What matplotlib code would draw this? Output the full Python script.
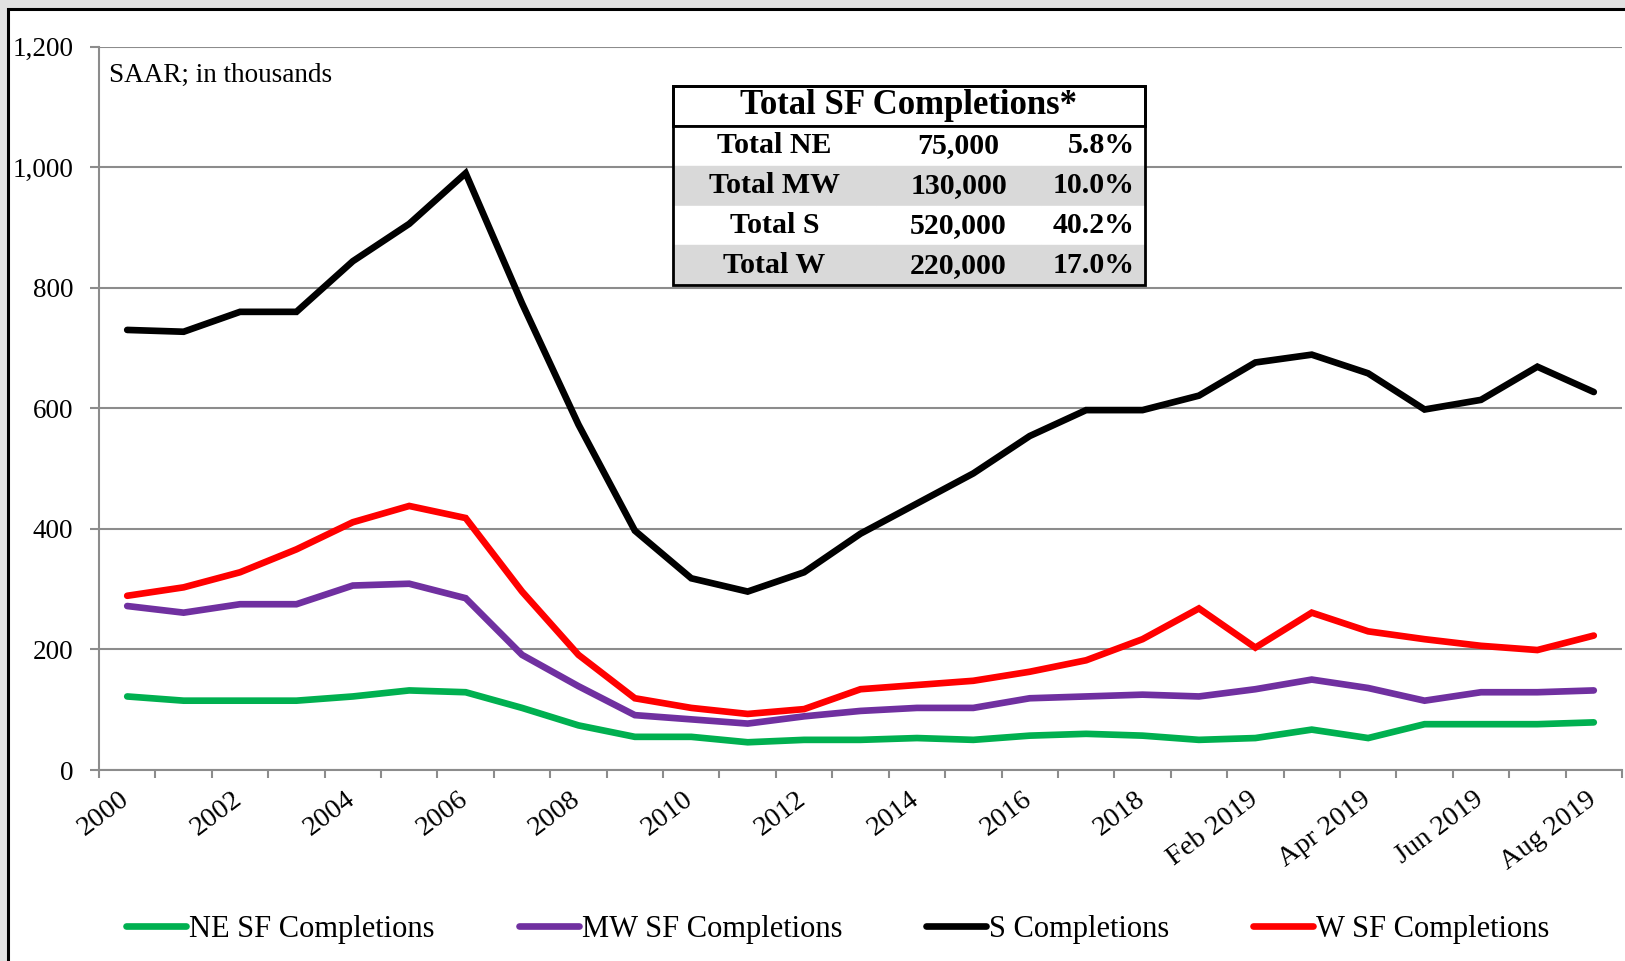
import matplotlib
matplotlib.use("Agg")
import matplotlib.pyplot as plt
import matplotlib.transforms as mtransforms
from matplotlib.patches import Rectangle
from matplotlib.ticker import FixedLocator, FuncFormatter

plt.rcParams["font.family"] = ["Liberation Serif", "DejaVu Serif"]

# monthly categories: annual 2000-2018, then Jan-Aug 2019
cats = [str(y) for y in range(2000, 2019)] + \
       ["Jan 2019", "Feb 2019", "Mar 2019", "Apr 2019", "May 2019", "Jun 2019", "Jul 2019", "Aug 2019"]
ne = [122, 115, 115, 115, 122, 132, 129, 103, 74, 55, 55, 46, 50, 50, 53, 50, 57, 60, 57,
      50, 53, 67, 53, 76, 76, 76, 79]
mw = [272, 261, 275, 275, 306, 309, 285, 191, 139, 91, 84, 77, 89, 98, 103, 103, 119, 122, 125,
      122, 134, 150, 136, 115, 129, 129, 132]
s = [730, 727, 760, 760, 844, 906, 990, 774, 573, 397, 318, 296, 328, 392, 442, 492, 554, 597, 597,
     621, 676, 689, 658, 598, 614, 669, 627]
w = [289, 303, 328, 366, 411, 438, 418, 296, 191, 119, 103, 93, 101, 134, 141, 148, 163, 182, 217,
     268, 203, 261, 230, 217, 206, 199, 223]
series_names = ["NE SF Completions", "MW SF Completions", "S Completions", "W SF Completions"]
series_colors = ["#00b050", "#7030a0", "#000000", "#ff0000"]

tbl_head = "Total SF Completions*"
tbl_labels = ["Total NE", "Total MW", "Total S", "Total W"]
tbl_units = ["75,000", "130,000", "520,000", "220,000"]
tbl_share = ["5.8%", "10.0%", "40.2%", "17.0%"]

W, H = 1625, 961
fig = plt.figure(figsize=(W / 100, H / 100), dpi=100, facecolor="#e2e2e2")
fig.add_artist(Rectangle((8 / W, -0.1), 1.2, (H - 9) / H + 0.1, transform=fig.transFigure,
                         facecolor="white", edgecolor="black", lw=2.2, zorder=0))

ax = fig.add_axes([99 / W, (H - 770) / H, (1622 - 99) / W, (770 - 46.6) / H])
ax.set_facecolor("none")
x = list(range(len(cats)))
for vals, name, col in zip([ne, mw, s, w], series_names, series_colors):
    ax.plot(x, vals, color=col, lw=4.8, label=name, solid_capstyle="round", solid_joinstyle="miter")

ax.set_xlim(-0.5, len(cats) - 0.5)
ax.set_ylim(0, 1200)
ax.set_yticks(range(0, 1201, 200))
ax.yaxis.set_major_formatter(FuncFormatter(lambda v, p: f"{int(v):,}"))
ax.grid(axis="y", color="#8c8c8c", lw=1.5)
ax.set_axisbelow(True)
for sp in ["top", "right"]:
    ax.spines[sp].set_visible(False)
for sp in ["left", "bottom"]:
    ax.spines[sp].set_color("#8c8c8c")
    ax.spines[sp].set_linewidth(1.5)

# labels on every other category, tick marks on category boundaries
ax.set_xticks(x[::2])
ax.set_xticklabels(cats[::2], rotation=37, ha="right", va="top")
ax.xaxis.set_minor_locator(FixedLocator([i - 0.5 for i in range(len(cats) + 1)]))
ax.tick_params(axis="x", which="major", length=0, pad=12, labelsize=20.5)
ax.tick_params(axis="x", which="minor", length=6, width=1.5, color="#8c8c8c")
ax.tick_params(axis="y", length=6.5, width=1.5, color="#8c8c8c", pad=12, labelsize=19.5)
shift = mtransforms.ScaledTranslation(0.07, 0, fig.dpi_scale_trans)
for lab in ax.get_xticklabels():
    lab.set_transform(lab.get_transform() + shift)

fig.text(109 / W, (H - 75) / H, "SAAR; in thousands", fontsize=19.5, va="center", ha="left")

# summary table
tx0, tx1, ty_top, ty_head, ty_bot = 673, 1145, 86, 126, 285
tab_ax = fig.add_axes([tx0 / W, (H - ty_bot) / H, (tx1 - tx0) / W, (ty_bot - ty_top) / H])
tab_ax.axis("off")
hfrac = (ty_head - ty_top) / (ty_bot - ty_top)
head = tab_ax.table(cellText=[[tbl_head]], cellLoc="center", bbox=[0, 1 - hfrac, 1, hfrac])
body_rows = [[a, b, c] for a, b, c in zip(tbl_labels, tbl_units, tbl_share)]
body = tab_ax.table(cellText=body_rows, colWidths=[0.43, 0.35, 0.22], bbox=[0, 0, 1, 1 - hfrac])
for t in (head, body):
    t.auto_set_font_size(False)
for (r, c), cell in head.get_celld().items():
    cell.set_linewidth(2)
    cell.get_text().set_fontsize(25)
    cell.get_text().set_fontweight("bold")
for (r, c), cell in body.get_celld().items():
    fc = "#d9d9d9" if r % 2 == 1 else "white"
    cell.set_facecolor(fc)
    cell.set_edgecolor(fc)
    txt = cell.get_text()
    txt.set_fontsize(21.5)
    txt.set_fontweight("bold")
    if c == 2:
        cell._loc = "right"
        cell.PAD = 0.1
    else:
        cell._loc = "center"
    txt.set_ha({0: "center", 1: "center", 2: "right"}[c])
tab_ax.add_patch(Rectangle((0, 0), 1, 1, transform=tab_ax.transAxes, fill=False,
                           edgecolor="black", lw=2, clip_on=False, zorder=5))
tab_ax.plot([0, 1], [1 - hfrac, 1 - hfrac], color="black", lw=2, transform=tab_ax.transAxes,
            clip_on=False, zorder=5)

fs_leg = 22
fig.legend(handles=ax.get_lines(), labels=series_names, ncol=4, frameon=False,
           loc="center left", bbox_to_anchor=(126 / W, (H - 929) / H),
           fontsize=fs_leg, borderpad=0, borderaxespad=0,
           handlelength=60 / (fs_leg * 100 / 72), handletextpad=0.1,
           columnspacing=84 / (fs_leg * 100 / 72))

fig.savefig("out.png", dpi=100, facecolor=fig.get_facecolor())
